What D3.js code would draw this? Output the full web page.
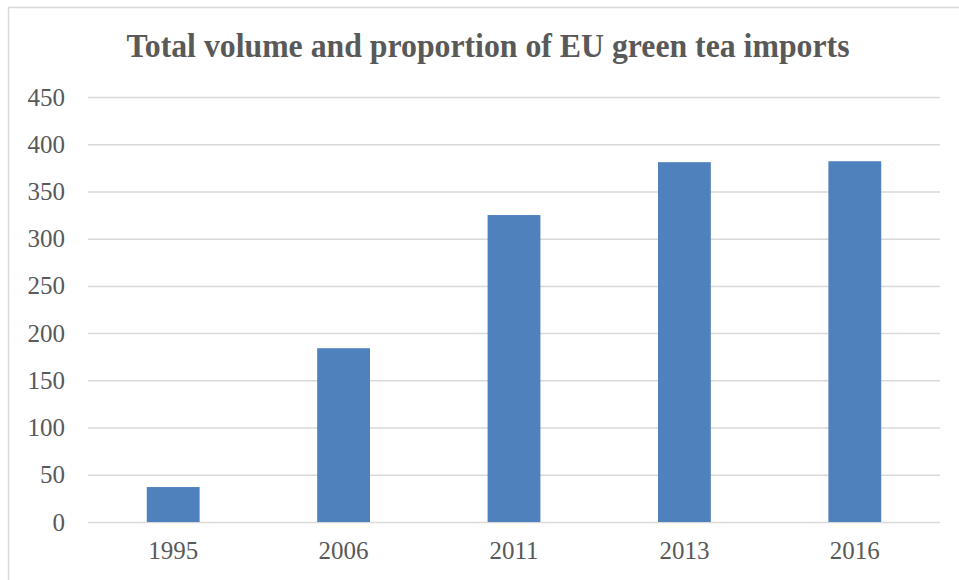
<!DOCTYPE html>
<html>
<head>
<meta charset="utf-8">
<script src="https://cdn.jsdelivr.net/npm/d3@7"></script>
<style>
  body { margin: 0; background: #fff; }
  svg { display: block; }
</style>
</head>
<body>
<div id="chart"></div>
<script>
// Chart data
const years = ["1995", "2006", "2011", "2013", "2016"];
const volumes = [37, 184, 325, 381, 382];
const yTicks = [0, 50, 100, 150, 200, 250, 300, 350, 400, 450];
const title = "Total volume and proportion of EU green tea imports";

const width = 959, height = 580;
const margin = {top: 97, right: 19, bottom: 58, left: 88};
const innerW = width - margin.left - margin.right;
const innerH = height - margin.top - margin.bottom;

const svg = d3.select("#chart").append("svg")
    .attr("width", width)
    .attr("height", height);

// outer chart border (right and bottom edges fall outside the frame)
svg.append("rect")
    .attr("x", 8.5).attr("y", 7.5)
    .attr("width", 956).attr("height", 580)
    .attr("fill", "none")
    .attr("stroke", "#d9d9d9")
    .attr("stroke-width", 1.5);

svg.append("text")
    .attr("x", 488)
    .attr("y", 57)
    .attr("text-anchor", "middle")
    .attr("textLength", 723)
    .attr("lengthAdjust", "spacingAndGlyphs")
    .style("font-family", "'Liberation Serif', 'Times New Roman', serif")
    .style("font-weight", "bold")
    .style("font-size", "33px")
    .style("fill", "#595959")
    .text(title);

const g = svg.append("g")
    .attr("transform", "translate(" + margin.left + "," + margin.top + ")");

// Scales
const x = d3.scaleBand()
    .domain(years)
    .range([0, innerW])
    .paddingInner(0.69)
    .paddingOuter(0.345);
const y = d3.scaleLinear()
    .domain([0, 450])
    .range([innerH, 0]);

// gridlines
const yAxis = d3.axisLeft(y)
    .tickValues(yTicks)
    .tickSize(-innerW)
    .tickPadding(23);
const yAxisGroup = g.append("g").call(yAxis);
yAxisGroup.select(".domain").remove();
yAxisGroup.selectAll(".tick line")
    .attr("stroke", "#d9d9d9")
    .attr("stroke-width", 1.5);
yAxisGroup.selectAll(".tick text")
    .style("font-family", "'Liberation Serif', 'Times New Roman', serif")
    .style("font-size", "25px")
    .style("fill", "#595959");

// bars
g.selectAll(".bar")
    .data(volumes)
    .enter().append("rect")
    .attr("class", "bar")
    .attr("x", (d, i) => x(years[i]))
    .attr("y", d => y(d))
    .attr("width", x.bandwidth())
    .attr("height", d => innerH - y(d))
    .attr("fill", "#4f81bd");

// x axis
const xAxis = d3.axisBottom(x).tickSize(0).tickPadding(19);
const xAxisGroup = g.append("g")
    .attr("transform", "translate(0," + innerH + ")")
    .call(xAxis);
xAxisGroup.select(".domain").remove();
xAxisGroup.selectAll(".tick text")
    .style("font-family", "'Liberation Serif', 'Times New Roman', serif")
    .style("font-size", "25px")
    .style("fill", "#595959");
</script>
</body>
</html>
